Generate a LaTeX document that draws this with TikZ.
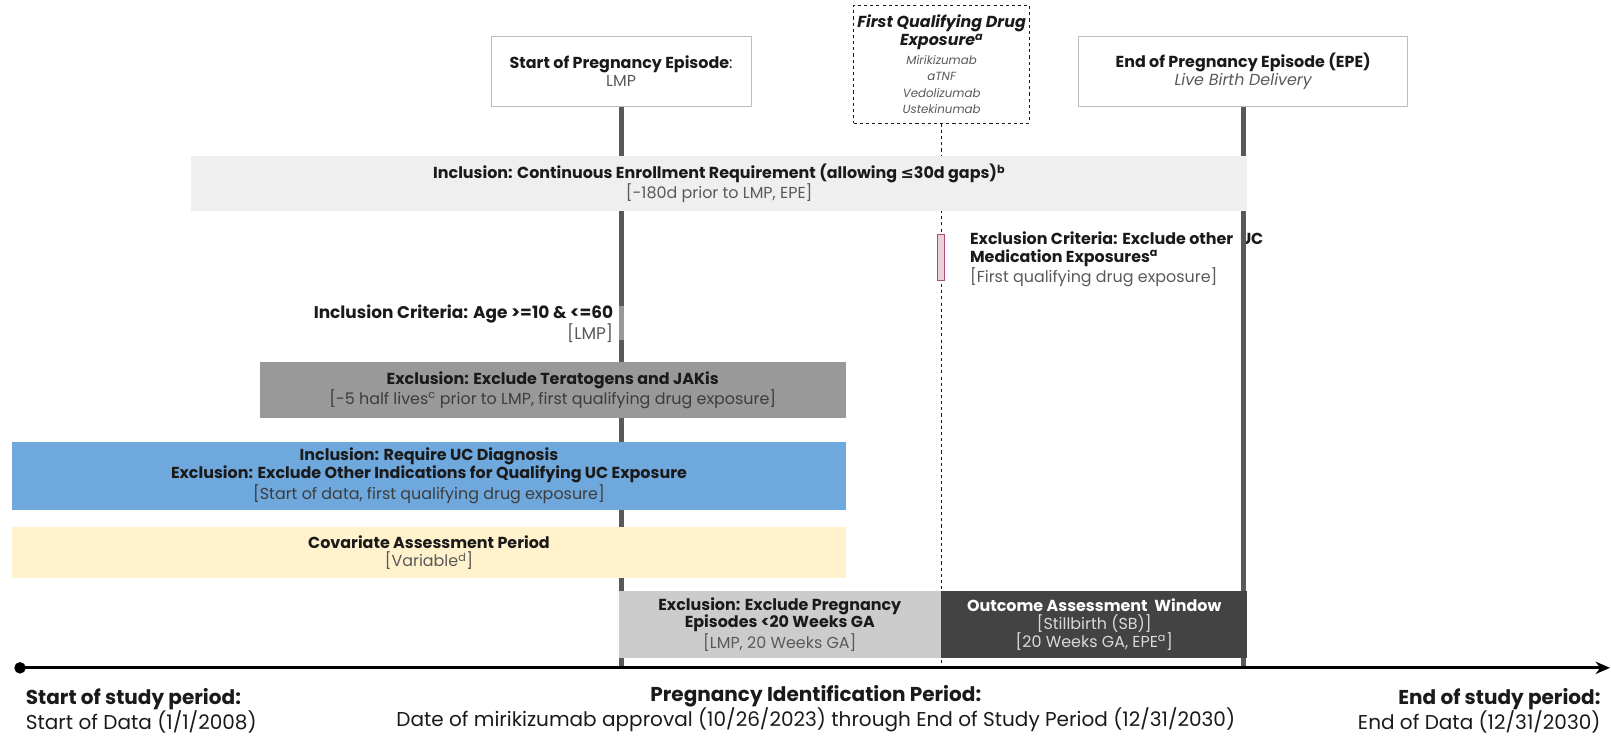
\documentclass[tikz,border=0pt]{standalone}
\usepackage{fontspec}
\setmainfont{Poppins}
\newfontfamily\symfont{DejaVu Sans}
\usetikzlibrary{arrows.meta}
\definecolor{ink}{HTML}{1A1A1A}
\definecolor{note}{HTML}{595959}
\definecolor{rulegray}{HTML}{595959}
\definecolor{boxedge}{HTML}{BDBDBD}
\definecolor{enroll}{HTML}{EFEFEF}
\definecolor{terato}{HTML}{999999}
\definecolor{ucblue}{HTML}{6FA8DC}
\definecolor{covar}{HTML}{FFF2CC}
\definecolor{pregex}{HTML}{CCCCCC}
\definecolor{outcome}{HTML}{434343}
\definecolor{pinkfill}{HTML}{EAD1DC}
\definecolor{pinkedge}{HTML}{A64D79}
\newcommand{\fbody}{\fontsize{15.5}{17.5}\selectfont}
\newcommand{\fsmall}{\fontsize{11.5}{15.7}\selectfont}
\newcommand{\fbig}{\fontsize{19.5}{23}\selectfont}
\tikzset{
  eventbox/.style={draw=boxedge, line width=0.8pt, fill=white, align=center,
    inner sep=0pt, text=ink, font=\fbody},
  bar/.style={fill=#1, draw=none, align=center, inner sep=0pt, text=ink, font=\fbody},
  vline/.style={draw=rulegray, line width=5pt},
  plain/.style={inner sep=0pt, text=ink, font=\fbody},
}
\begin{document}
\begin{tikzpicture}[x=1pt,y=-1pt]
\useasboundingbox (0,0) rectangle (1568,716);

% criterion text that sits beside the exposure marker
\node[plain, anchor=west, align=left] (excltext) at (944,252)
  {\textbf{Exclusion Criteria: Exclude other\ \ UC}\\
   \textbf{Medication Exposures\textsuperscript{a}}\\
   {\color{note}[First qualifying drug exposure]}};

% event boxes
\node[eventbox, minimum width=253pt, minimum height=69pt] (lmp) at (604.5,69.5)
  {\textbf{Start of Pregnancy Episode}:\\{\color{note}LMP}};
\node[eventbox, minimum width=320pt, minimum height=69pt] (epe) at (1210,69.5)
  {\textbf{End of Pregnancy Episode (EPE)}\\{\color{note}\itshape Live Birth Delivery}};
\node[draw=ink, dashed, line width=0.9pt, fill=white, minimum width=171pt,
      minimum height=115pt, inner sep=0pt, align=center, text=ink,
      font=\fsmall] (drug) at (916.5,62.5)
  {{\fbody\bfseries\itshape First Qualifying Drug}\\[1.5pt]
   {\fbody\bfseries\itshape Exposure\textsuperscript{a}}\\[3pt]
   {\color{note}\itshape Mirikizumab}\\
   {\color{note}\itshape aTNF}\\
   {\color{note}\itshape Vedolizumab}\\
   {\color{note}\itshape Ustekinumab}};

% study time axis
\coordinate (axL) at (14,650);
\coordinate (axR) at (1567,650);

% event lines down to the axis
\draw[vline] (lmp.south) -- (lmp.south |- axL);
\draw[vline] (epe.south) -- (epe.south |- axL);
\draw[vline, draw=terato] (604.5,298) -- (604.5,331);
\draw[ink, dashed, line width=0.8pt] (drug.south) -- (drug.south |- axL);

% exposure marker on the dashed line
\node[draw=pinkedge, fill=pinkfill, line width=1pt, minimum width=7pt,
      minimum height=45pt, inner sep=0pt] (mark) at (916,250.5) {};

% age criterion
\node[plain, anchor=east, align=right, font=\fontsize{16.5}{18}\selectfont] (age) at (597,315)
  {\textbf{Inclusion Criteria: Age >=10 \& <=60}\\{\color{note}[LMP]}};

% criterion bars
\node[bar=enroll, minimum width=1028pt, minimum height=53pt] (enrollbar) at (700,178.5)
  {\textbf{Inclusion: Continuous Enrollment Requirement (allowing {\symfont\bfseries ≤}30d gaps)\textsuperscript{b}}\\
   {\color{note}[-180d prior to LMP, EPE]}};
\node[bar=terato, minimum width=570pt, minimum height=55pt] (teratobar) at (538,379.5)
  {\textbf{Exclusion: Exclude Teratogens and JAKis}\\
   {\color{ink!85}[-5 half lives\textsuperscript{c} prior to LMP, first qualifying drug exposure]}};
\node[bar=ucblue, minimum width=811pt, minimum height=66pt] (ucbar) at (417.5,463)
  {\textbf{Inclusion: Require UC Diagnosis}\\
   \textbf{Exclusion: Exclude Other Indications for Qualifying UC Exposure}\\
   {\color{ink!85}[Start of data, first qualifying drug exposure]}};
\node[bar=covar, minimum width=811pt, minimum height=50pt] (covbar) at (417.5,538)
  {\textbf{Covariate Assessment Period}\\
   {\color{note}[Variable\textsuperscript{d}]}};
\node[bar=pregex, minimum width=314pt, minimum height=65pt] (pregbar) at (759,607.5)
  {\textbf{Exclusion: Exclude Pregnancy}\\
   \textbf{Episodes <20 Weeks GA}\\
   {\color{note}[LMP, 20 Weeks GA]}};
\node[bar=outcome, minimum width=298pt, minimum height=65pt, text=white] (outbar) at (1065,607.5)
  {\textbf{Outcome Assessment\ \ Window}\\
   {\color{white!85!black}[Stillbirth (SB)]}\\
   {\color{white!85!black}[20 Weeks GA, EPE\textsuperscript{a}]}};

% axis
\draw[line width=3pt, {Circle[length=11pt]}-{Stealth[length=14pt,width=12pt]}] (axL) -- (axR);

% period labels
\node[plain, anchor=west, align=left, font=\fbig] (startlbl) at (25,692)
  {\textbf{Start of study period:}\\Start of Data (1/1/2008)};
\node[plain, anchor=center, align=center, font=\fbig] (pidlbl) at (794,689.5)
  {\textbf{Pregnancy Identification Period:}\\Date of mirikizumab approval (10/26/2023) through End of Study Period (12/31/2030)};
\node[plain, anchor=east, align=right, font=\fbig] (endlbl) at (1558,692)
  {\textbf{End of study period:}\\End of Data (12/31/2030)};
\end{tikzpicture}
\end{document}
